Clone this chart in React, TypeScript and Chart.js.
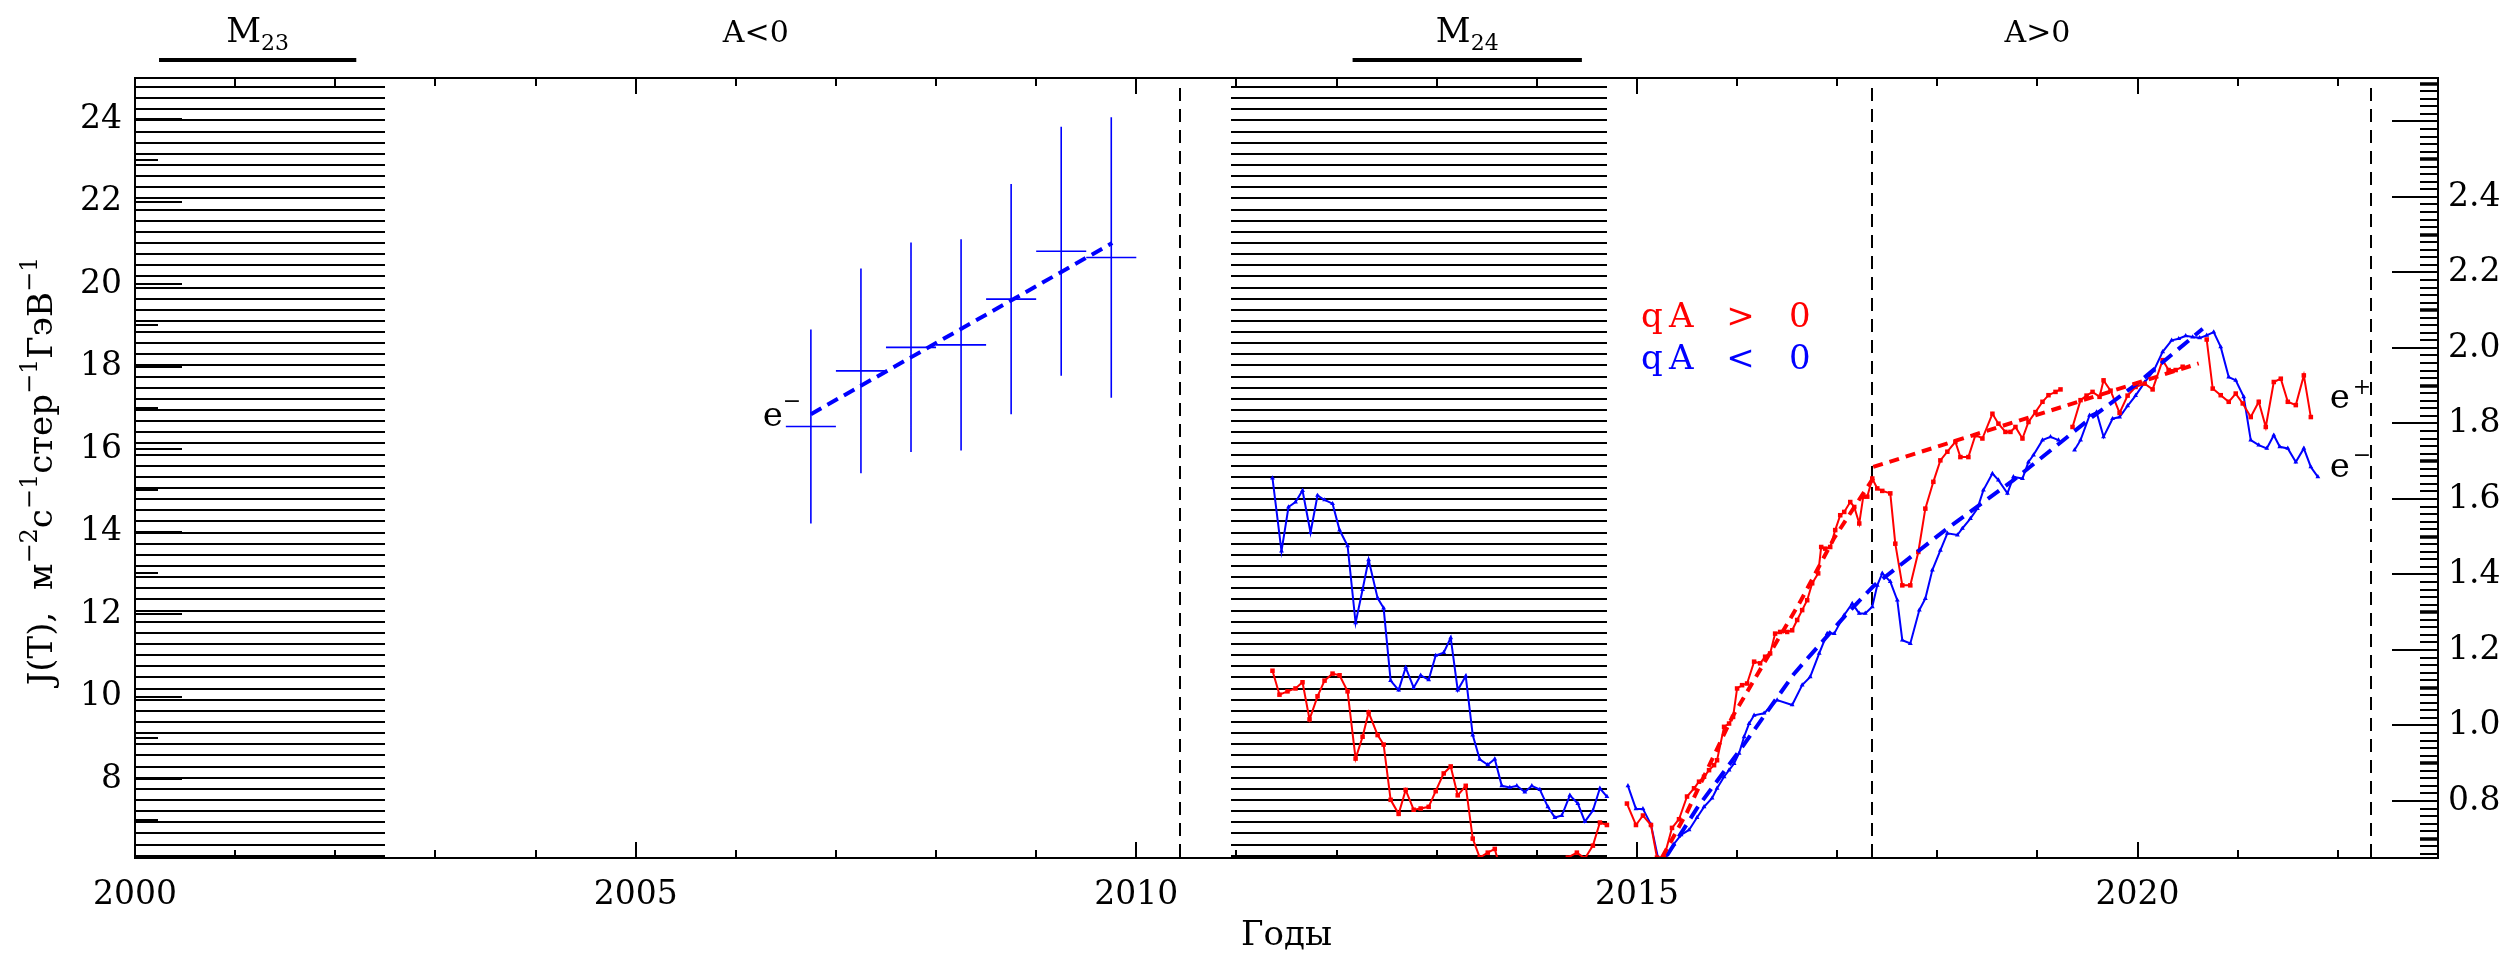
import { useEffect, useRef } from "react";
import { Chart, registerables } from "chart.js";

Chart.register(...registerables);

const W = 2509;
const H = 954;
const SERIF = '"DejaVu Serif", "Liberation Serif", serif';
const RED = "#ff0000";
const BLUE = "#0000ff";

// ---- axes ----
const yearMin = 2000;
const yearMax = 2023.0;
const fluxMin = 6.09;
const fluxMax = 25.0;
const ratioMin = 0.649;
const ratioMax = 2.715;
const yearTicks = [2000, 2005, 2010, 2015, 2020];
const fluxTicks = [8, 10, 12, 14, 16, 18, 20, 22, 24];
const ratioTicks = [0.8, 1.0, 1.2, 1.4, 1.6, 1.8, 2.0, 2.2, 2.4];
const xTitle = "Годы";
const yTitleParts = [
  { text: "J(T),  м", sup: false },
  { text: "−2", sup: true },
  { text: "с", sup: false },
  { text: "−1", sup: true },
  { text: "стер", sup: false },
  { text: "−1", sup: true },
  { text: "ГэВ", sup: false },
  { text: "−1", sup: true },
];

// ---- solar-cycle context ----
const minimumSpans = [
  [2000, 2002.5],
  [2010.95, 2014.7],
];
const maximumBars = [
  [2000.24, 2002.21],
  [2012.16, 2014.45],
];
const maximumNames = ["23", "24"];
const polarityYears = [2006.2, 2019.0];
const polarityLabels = ["A<0", "A>0"];
const reversalYears = [2010.44, 2017.35, 2022.33];

// ---- electrons, half-year bins with errors ----
const eMinusYears = [2006.75, 2007.25, 2007.75, 2008.25, 2008.75, 2009.25, 2009.75];
const eMinusFlux = [16.55, 17.9, 18.47, 18.53, 19.64, 20.8, 20.65];
const eMinusError = [2.35, 2.48, 2.54, 2.56, 2.79, 3.02, 3.4];
const eMinusHalfBin = 0.25;
const eMinusFitYears = [2006.75, 2009.76];
const eMinusFitFlux = [16.85, 21.0];

// ---- qA > 0 (e+) ----
const posYears = [
  2011.36, 2011.43, 2011.51, 2011.59, 2011.66, 2011.73, 2011.81, 2011.88, 2011.96, 2012.03,
  2012.11, 2012.19, 2012.26, 2012.32, 2012.41, 2012.47, 2012.54, 2012.62, 2012.69, 2012.77,
  2012.84, 2012.92, 2012.99, 2013.07, 2013.14, 2013.21, 2013.29, 2013.36, 2013.43, 2013.51,
  2013.58, 2013.66, 2013.74, 2013.82, 2013.9, 2013.98, 2014.06, 2014.14, 2014.22, 2014.31,
  2014.4, 2014.48, 2014.56, 2014.63, 2014.7, null,
  2014.9, 2014.99, 2015.06, 2015.14, 2015.2, 2015.27, 2015.35, 2015.42, 2015.5, 2015.57,
  2015.62, 2015.67, 2015.72, 2015.77, 2015.8, 2015.87, 2015.92, 2015.96, 2016.0, 2016.05,
  2016.1, 2016.17, 2016.23, 2016.28, 2016.33, 2016.38, 2016.43, 2016.5, 2016.55, 2016.6,
  2016.65, 2016.7, 2016.75, 2016.81, 2016.84, 2016.88, 2016.93, 2016.98, 2017.03, 2017.07,
  2017.13, 2017.17, 2017.22, 2017.26, 2017.3, 2017.35, 2017.4, 2017.45, 2017.53, 2017.58,
  2017.65, 2017.73, 2017.81, 2017.88, 2017.96, 2018.03, 2018.1, 2018.18, 2018.23, 2018.31,
  2018.38, 2018.45, 2018.55, 2018.61, 2018.68, 2018.73, 2018.78, 2018.85, 2018.91, 2018.98,
  2019.05, 2019.11, 2019.18, 2019.23, null,
  2019.35, 2019.43, 2019.49, 2019.55, 2019.62, 2019.66, 2019.73, 2019.82, 2019.9, 2019.98,
  2020.07, 2020.15, 2020.25, 2020.31, 2020.38, 2020.45, null,
  2020.69, 2020.75, 2020.83, 2020.91, 2020.98, 2021.05, 2021.13, 2021.21, 2021.28, 2021.36,
  2021.43, 2021.5, 2021.58, 2021.66, 2021.73,
];
const posFlux = [
  10.63, 10.05, 10.13, 10.2, 10.35, 9.45, 10.01, 10.39, 10.56, 10.52,
  10.13, 8.5, 9.03, 9.62, 9.07, 8.84, 7.5, 7.16, 7.74, 7.26,
  7.29, 7.33, 7.71, 8.14, 8.31, 7.61, 7.84, 6.56, 6.1, 6.22,
  6.31, 5.6, 5.4, 5.5, 5.3, 5.5, 5.4, 5.6, 5.8, 6.1,
  6.22, 6.08, 6.39, 6.95, 6.89, null,
  7.41, 6.89, 7.12, 6.89, 6.1, 6.1, 6.82, 7.03, 7.58, 7.78,
  7.94, 8.06, 8.22, 8.34, 8.46, 9.27, 9.35, 9.51, 10.2, 10.28,
  10.32, 10.85, 10.81, 10.97, 11.05, 11.53, 11.57, 11.57, 11.61, 11.86,
  12.1, 12.34, 12.75, 12.99, 13.63, 13.59, 13.63, 14.04, 14.4, 14.48,
  14.72, 14.6, 14.2, 14.85, 14.85, 15.29, 15.05, 14.99, 14.93, 13.71,
  12.7, 12.7, 13.51, 14.56, 15.21, 15.73, 15.94, 16.18, 15.81, 15.81,
  16.34, 16.26, 16.86, 16.62, 16.42, 16.42, 16.54, 16.26, 16.66, 16.9,
  17.15, 17.31, 17.39, 17.45, null,
  16.54, 17.19, 17.3, 17.39, 17.27, 17.67, 17.42, 16.88, 17.3, 17.51,
  17.59, 17.45, 18.16, 17.92, 17.92, 18.0, null,
  18.66, 17.47, 17.31, 17.15, 17.35, 17.11, 16.78, 17.15, 16.54, 17.63,
  17.71, 17.15, 17.07, 17.79, 16.78,
];

// ---- qA < 0 (e-) ----
const negYears = [
  2011.36, 2011.45, 2011.52, 2011.59, 2011.66, 2011.74, 2011.81, 2011.88, 2011.96, 2012.03,
  2012.11, 2012.19, 2012.26, 2012.32, 2012.41, 2012.47, 2012.54, 2012.62, 2012.69, 2012.77,
  2012.84, 2012.92, 2012.99, 2013.07, 2013.14, 2013.21, 2013.29, 2013.36, 2013.43, 2013.51,
  2013.58, 2013.65, 2013.73, 2013.8, 2013.88, 2013.95, 2014.03, 2014.11, 2014.18, 2014.25,
  2014.33, 2014.41, 2014.48, 2014.56, 2014.63, 2014.7, null,
  2014.91, 2014.99, 2015.06, 2015.14, 2015.21, 2015.29, 2015.37, 2015.44, 2015.52, 2015.6,
  2015.67, 2015.75, 2015.8, 2015.87, 2015.92, 2015.97, 2016.02, 2016.07, 2016.12, 2016.17,
  2016.27, 2016.4, 2016.55, 2016.65, 2016.73, 2016.82, 2016.9, 2016.97, 2017.07, 2017.15,
  2017.22, 2017.28, 2017.35, 2017.4, 2017.45, 2017.53, 2017.6, 2017.65, 2017.73, 2017.82,
  2017.88, 2017.95, 2018.03, 2018.1, 2018.2, 2018.25, 2018.33, 2018.4, 2018.46, 2018.55,
  2018.61, 2018.7, 2018.76, 2018.85, 2018.91, 2018.96, 2019.05, 2019.13, 2019.21, null,
  2019.37, 2019.43, 2019.52, 2019.59, 2019.66, 2019.75, 2019.82, 2019.9, 2019.98, 2020.07,
  2020.16, 2020.25, 2020.34, 2020.41, 2020.48, 2020.55, 2020.62, 2020.69, 2020.76, 2020.83,
  2020.91, 2020.98, 2021.06, 2021.13, 2021.21, 2021.29, 2021.36, 2021.42, 2021.5, 2021.58,
  2021.66, 2021.73, 2021.8,
];
const negFlux = [
  15.3, 13.53, 14.6, 14.72, 15.0, 13.98, 14.88, 14.77, 14.68, 14.04,
  13.66, 11.79, 12.6, 13.32, 12.39, 12.15, 10.39, 10.16, 10.71, 10.22,
  10.52, 10.41, 11.0, 11.07, 11.43, 10.16, 10.5, 9.07, 8.48, 8.35,
  8.49, 7.84, 7.8, 7.84, 7.69, 7.84, 7.75, 7.33, 7.07, 7.12,
  7.61, 7.41, 6.97, 7.24, 7.78, 7.58, null,
  7.84, 7.28, 7.28, 6.9, 6.1, 6.1, 6.43, 6.65, 6.77, 7.07,
  7.33, 7.54, 7.78, 8.06, 8.22, 8.38, 8.63, 9.03, 9.35, 9.55,
  9.6, 9.92, 9.8, 10.28, 10.48, 11.05, 11.53, 11.53, 11.98, 12.26,
  12.02, 12.02, 12.18, 12.7, 12.99, 12.79, 12.34, 11.37, 11.29, 12.1,
  12.38, 13.07, 13.55, 13.96, 13.92, 14.08, 14.32, 14.56, 15.01, 15.41,
  15.25, 14.93, 15.33, 15.29, 15.69, 15.86, 16.22, 16.3, 16.22, null,
  15.98, 16.22, 16.82, 16.9, 16.3, 16.74, 16.78, 17.05, 17.3, 17.62,
  17.9, 18.36, 18.64, 18.68, 18.75, 18.72, 18.7, 18.76, 18.84, 18.48,
  17.75, 17.67, 17.27, 16.22, 16.1, 16.02, 16.34, 16.06, 16.02, 15.69,
  16.02, 15.57, 15.33,
];

// ---- fitted trends ----
const posFitRiseYears = [2015.25, 2015.5, 2015.95, 2016.63, 2016.97, 2017.36];
const posFitRiseFlux = [6.1, 7.2, 9.5, 12.3, 13.85, 15.3];
const posFitSlowYears = [2017.36, 2020.61];
const posFitSlowFlux = [15.57, 18.08];
const negFitYears = [2015.3, 2015.6, 2016.03, 2016.57, 2017.1, 2017.37, 2018.1, 2018.76, 2019.53, 2020.0, 2020.65];
const negFitFlux = [6.15, 7.3, 8.71, 10.56, 12.02, 12.7, 14.08, 15.25, 16.75, 17.6, 18.92];

const legendRows = [
  { text: "qA > 0", color: RED },
  { text: "qA < 0", color: BLUE },
];

type Pt = { x: number | null; y: number | null };

function pairs(xs: (number | null)[], ys: (number | null)[]): Pt[] {
  return xs.map((x, i) => ({ x, y: ys[i] }));
}

function errorCrosses(): Pt[] {
  const out: Pt[] = [];
  eMinusYears.forEach((yr, i) => {
    const v = eMinusFlux[i];
    const e = eMinusError[i];
    out.push({ x: yr, y: v - e }, { x: yr, y: v + e }, { x: null, y: null });
    out.push({ x: yr - eMinusHalfBin, y: v }, { x: yr + eMinusHalfBin, y: v }, { x: null, y: null });
  });
  return out;
}

function drawSpaced(ctx: CanvasRenderingContext2D, text: string, x0: number, baseline: number, pitch: number) {
  ctx.textAlign = "center";
  for (let i = 0; i < text.length; i++) {
    const ch = text[i];
    if (ch !== " ") ctx.fillText(ch, x0 + (i + 0.5) * pitch, baseline);
  }
}

const framePlugin = {
  id: "frame",
  beforeDatasetsDraw(chart: any) {
    const { ctx, chartArea: a, scales } = chart;
    const xs = scales.x;
    ctx.save();
    // horizontal hatching over the solar-minimum spans
    ctx.strokeStyle = "#000";
    ctx.lineWidth = 2;
    for (const [s, e] of minimumSpans) {
      const x0 = Math.round(xs.getPixelForValue(s));
      const x1 = Math.round(xs.getPixelForValue(e));
      ctx.beginPath();
      for (let yy = a.top + 9; yy < a.bottom - 1; yy += 11.14) {
        const py = Math.round(yy);
        ctx.moveTo(x0, py);
        ctx.lineTo(x1, py);
      }
      ctx.stroke();
    }
    // polarity reversal epochs
    ctx.setLineDash([13, 8]);
    ctx.lineWidth = 2;
    for (const r of reversalYears) {
      const px = Math.round(xs.getPixelForValue(r));
      ctx.beginPath();
      ctx.moveTo(px, a.top + 10);
      ctx.lineTo(px, a.bottom);
      ctx.stroke();
    }
    ctx.restore();
  },
  afterDatasetsDraw(chart: any) {
    const { ctx, chartArea: a, scales } = chart;
    const xs = scales.x;
    const ys = scales.y;
    const yr = scales.y1;
    ctx.save();
    ctx.strokeStyle = "#000";
    ctx.fillStyle = "#000";
    ctx.lineWidth = 2;
    ctx.strokeRect(a.left, a.top, a.right - a.left, a.bottom - a.top);

    // year ticks, bottom and top, pointing inward
    ctx.beginPath();
    for (let y = Math.ceil(yearMin + 1); y < yearMax; y++) {
      const px = Math.round(xs.getPixelForValue(y));
      const len = y % 5 === 0 ? 16 : 8;
      ctx.moveTo(px, a.bottom);
      ctx.lineTo(px, a.bottom - len);
      ctx.moveTo(px, a.top);
      ctx.lineTo(px, a.top + len);
    }
    ctx.stroke();

    // left flux ticks
    ctx.beginPath();
    for (let v = Math.ceil(fluxMin); v <= Math.floor(fluxMax); v++) {
      const py = Math.round(ys.getPixelForValue(v));
      const len = v % 2 === 0 ? 47 : 23;
      ctx.moveTo(a.left, py);
      ctx.lineTo(a.left + len, py);
    }
    ctx.stroke();

    // right ratio ticks
    const k0 = Math.ceil(ratioMin / 0.02);
    const k1 = Math.floor(ratioMax / 0.02);
    for (let k = k0; k <= k1; k++) {
      const py = Math.round(yr.getPixelForValue(k * 0.02));
      let len = 18;
      ctx.lineWidth = 2;
      if (k % 10 === 0) len = 46;
      else if (k % 5 === 0) ctx.lineWidth = 3.5;
      ctx.beginPath();
      ctx.moveTo(a.right, py);
      ctx.lineTo(a.right - len, py);
      ctx.stroke();
    }

    // solar maximum markers
    ctx.lineWidth = 4;
    maximumBars.forEach(([s, e], i) => {
      const x0 = xs.getPixelForValue(s);
      const x1 = xs.getPixelForValue(e);
      ctx.beginPath();
      ctx.moveTo(x0, 60);
      ctx.lineTo(x1, 60);
      ctx.stroke();
      const cx = (x0 + x1) / 2;
      ctx.font = `34px ${SERIF}`;
      const wM = ctx.measureText("M").width;
      ctx.font = `22px ${SERIF}`;
      const wS = ctx.measureText(maximumNames[i]).width;
      const left = cx - (wM + wS) / 2;
      ctx.textAlign = "left";
      ctx.textBaseline = "alphabetic";
      ctx.font = `34px ${SERIF}`;
      ctx.fillText("M", left, 42);
      ctx.font = `22px ${SERIF}`;
      ctx.fillText(maximumNames[i], left + wM, 50);
    });

    // polarity labels
    ctx.font = `30px ${SERIF}`;
    ctx.textAlign = "center";
    polarityLabels.forEach((t, i) => {
      ctx.fillText(t, xs.getPixelForValue(polarityYears[i]), 42);
    });

    // e- label beside the binned points
    ctx.textAlign = "left";
    ctx.font = `34px ${SERIF}`;
    const ex = xs.getPixelForValue(2006.27);
    const eb = ys.getPixelForValue(16.56);
    ctx.fillText("e", ex, eb);
    ctx.font = `22px ${SERIF}`;
    ctx.fillText("−", ex + 20, eb - 18);

    // e+ / e- labels at the right end
    const rx = xs.getPixelForValue(2021.92);
    ctx.font = `34px ${SERIF}`;
    ctx.fillText("e", rx, 408);
    ctx.fillText("e", rx, 477);
    ctx.font = `22px ${SERIF}`;
    ctx.fillText("+", rx + 23, 394);
    ctx.fillText("−", rx + 23, 462);

    // legend
    ctx.font = `34px ${SERIF}`;
    legendRows.forEach((row, i) => {
      ctx.fillStyle = row.color;
      drawSpaced(ctx, row.text, 1637, 327 + i * 41.5, 29.6);
    });
    ctx.fillStyle = "#000";

    // axis titles
    ctx.textAlign = "center";
    ctx.font = `34px ${SERIF}`;
    ctx.fillText(xTitle, (a.left + a.right) / 2, 945);

    ctx.translate(52, (a.top + a.bottom) / 2 + 3);
    ctx.rotate(-Math.PI / 2);
    ctx.textAlign = "left";
    const widths = yTitleParts.map((p) => {
      ctx.font = p.sup ? `24px ${SERIF}` : `34px ${SERIF}`;
      return ctx.measureText(p.text).width;
    });
    const total = widths.reduce((s, w) => s + w, 0);
    let cx = -total / 2;
    yTitleParts.forEach((p, i) => {
      ctx.font = p.sup ? `24px ${SERIF}` : `34px ${SERIF}`;
      ctx.fillText(p.text, cx, p.sup ? -15 : 0);
      cx += widths[i];
    });
    ctx.restore();
  },
};

export default function App() {
  const ref = useRef<HTMLCanvasElement>(null);

  useEffect(() => {
    document.body.style.margin = "0";
    document.body.style.overflow = "hidden";
    const tickFont = { family: SERIF, size: 33 };
    const chart = new Chart(ref.current as HTMLCanvasElement, {
      type: "line",
      data: {
        datasets: [
          {
            data: pairs(eMinusFitYears, eMinusFitFlux),
            borderColor: BLUE,
            borderWidth: 4,
            borderDash: [12, 7],
            pointRadius: 0,
          },
          {
            data: pairs(posFitRiseYears, posFitRiseFlux),
            borderColor: RED,
            borderWidth: 4,
            borderDash: [10, 7],
            pointRadius: 0,
          },
          {
            data: pairs(posFitSlowYears, posFitSlowFlux),
            borderColor: RED,
            borderWidth: 4,
            borderDash: [10, 7],
            pointRadius: 0,
          },
          {
            data: pairs(negFitYears, negFitFlux),
            borderColor: BLUE,
            borderWidth: 4,
            borderDash: [14, 8],
            pointRadius: 0,
          },
          {
            data: pairs(posYears, posFlux),
            borderColor: RED,
            backgroundColor: RED,
            borderWidth: 2,
            pointStyle: "rect",
            pointRadius: 3.2,
            pointBorderWidth: 0,
          },
          {
            data: pairs(negYears, negFlux),
            borderColor: BLUE,
            backgroundColor: BLUE,
            borderWidth: 2,
            pointStyle: "triangle",
            pointRadius: 2.8,
            pointBorderWidth: 0,
          },
          {
            data: errorCrosses(),
            borderColor: BLUE,
            borderWidth: 1.6,
            pointRadius: 0,
          },
        ] as any,
      },
      options: {
        responsive: false,
        animation: false,
        devicePixelRatio: 1,
        spanGaps: false,
        layout: { padding: { top: 78, left: 0, right: 0, bottom: 0 } },
        elements: { line: { tension: 0 } },
        plugins: {
          legend: { display: false },
          tooltip: { enabled: false },
        },
        scales: {
          x: {
            type: "linear",
            position: "bottom",
            min: yearMin,
            max: yearMax,
            grid: { display: false, drawTicks: false },
            border: { display: false },
            afterBuildTicks: (s: any) => {
              s.ticks = yearTicks.map((v) => ({ value: v }));
            },
            afterFit: (s: any) => {
              s.height = H - 858;
            },
            ticks: {
              font: tickFont,
              color: "#000",
              padding: 18,
              maxRotation: 0,
              autoSkip: false,
              callback: (v: any) => String(v),
            },
          },
          y: {
            type: "linear",
            position: "left",
            min: fluxMin,
            max: fluxMax,
            grid: { display: false, drawTicks: false },
            border: { display: false },
            afterBuildTicks: (s: any) => {
              s.ticks = fluxTicks.map((v) => ({ value: v }));
            },
            afterFit: (s: any) => {
              s.width = 135;
            },
            ticks: { font: tickFont, color: "#000", padding: 13, callback: (v: any) => String(v) },
          },
          y1: {
            type: "linear",
            position: "right",
            min: ratioMin,
            max: ratioMax,
            grid: { display: false, drawTicks: false },
            border: { display: false },
            afterBuildTicks: (s: any) => {
              s.ticks = ratioTicks.map((v) => ({ value: v }));
            },
            afterFit: (s: any) => {
              s.width = W - 2438;
            },
            ticks: {
              font: tickFont,
              color: "#000",
              padding: 10,
              callback: (v: any) => Number(v).toFixed(1),
            },
          },
        },
      } as any,
      plugins: [framePlugin],
    });
    return () => chart.destroy();
  }, []);

  return (
    <div style={{ position: "absolute", left: 0, top: 0, width: W, height: H, background: "#fff" }}>
      <canvas ref={ref} width={W} height={H} style={{ display: "block", width: W, height: H }} />
    </div>
  );
}
